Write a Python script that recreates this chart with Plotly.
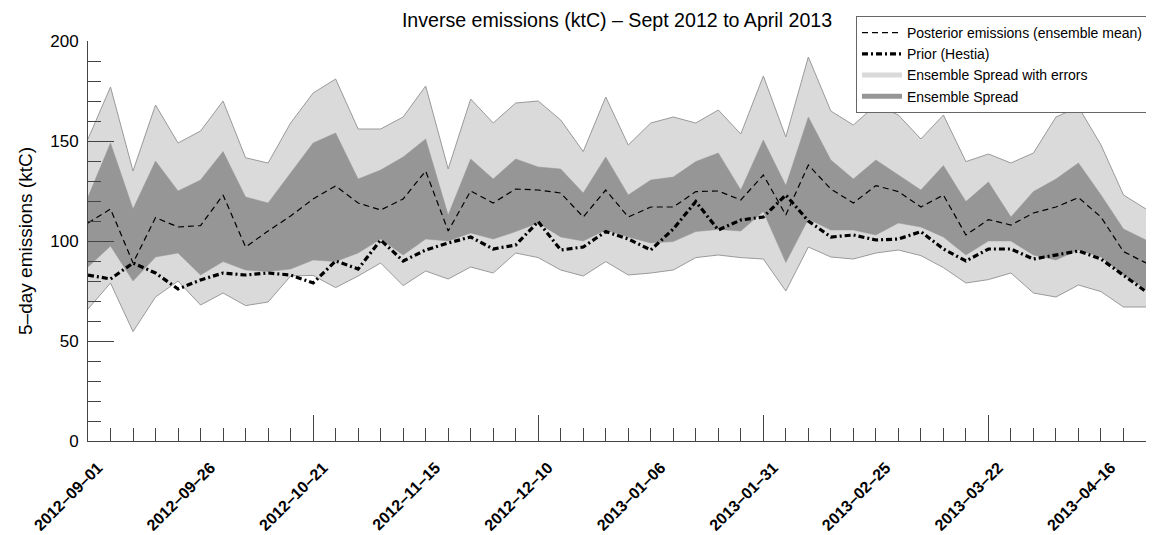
import plotly.graph_objects as go

# ---- data (5-day periods, 2012-09-01 .. 2013-04-26) ----
period_index = list(range(48))
tick_positions = [0, 5, 10, 15, 20, 25, 30, 35, 40, 45]
tick_labels = ["2012–09–01", "2012–09–26", "2012–10–21", "2012–11–15", "2012–12–10",
               "2013–01–06", "2013–01–31", "2013–02–25", "2013–03–22", "2013–04–16"]
major_tick_positions = [0, 10, 20, 30, 40]

spread_err_upper = [151, 177, 135, 168, 149, 155, 170, 141.6, 139, 159,
                    174, 181, 156, 156, 162, 177.5, 136, 171, 159, 169,
                    170, 160.5, 144.7, 172, 148, 159, 162, 159, 165.5, 153.5,
                    182.5, 152, 192, 165, 158, 168, 163, 151, 163, 139.7,
                    143.5, 139, 144, 162, 167, 148, 123, 116]
spread_upper = [122, 149, 116, 140, 125, 130.5, 144.7, 122, 119, 134,
                149, 154, 131, 135.5, 142, 151, 113, 141, 131, 141,
                137, 136, 124, 142, 123, 130.5, 132, 139.7, 144, 125.5,
                150.5, 127.7, 162, 140.5, 131, 140.5, 133, 125.5, 137.7, 119.7,
                129.5, 112, 124.7, 131, 139, 123, 106, 100.5]
posterior_mean = [109, 116, 89, 111.7, 107, 107.7, 123, 97, 105, 112.5,
                  121, 127.5, 119, 115.5, 121, 135, 105, 125, 119, 126,
                  125.5, 124, 112, 125.5, 112, 117, 117, 124.7, 125, 120.5,
                  133, 113, 138, 126, 119, 127.7, 124.7, 117, 123, 103,
                  110.7, 108, 114, 117, 121.7, 112, 94.7, 89]
prior_hestia = [83, 81, 89, 84, 76, 80.5, 84, 83, 84, 83,
                79, 90, 86, 100.5, 90, 95.5, 99, 102, 96, 98,
                109.7, 95.5, 97, 104.7, 101, 95.5, 106, 119.7, 105.5, 110.5,
                112, 123, 110, 102, 103, 100.5, 101, 104.7, 96, 90,
                96, 96, 91, 93, 95, 91, 83, 74.7]
spread_lower = [87, 97.5, 80, 92, 94, 83, 89.7, 85.5, 84.7, 86,
                90.5, 89.7, 94, 101, 93, 101, 100, 104, 101, 104.7,
                109, 102, 100, 105.5, 102, 99, 99.7, 104.7, 105.8, 105,
                114.7, 89.3, 111, 105.5, 105.5, 103, 109, 107, 102, 93,
                100, 100, 93, 90.5, 95.5, 92, 83, 76]
spread_err_lower = [66, 79, 54.7, 72, 80, 68, 74, 67.7, 69.5, 82.5,
                    82.8, 76.7, 82.5, 89, 77.7, 85, 81, 87, 84, 94,
                    91.7, 85.5, 82.5, 89.7, 83, 84, 85.5, 91.7, 93, 91.7,
                    91, 75, 97, 92, 91, 94, 95.5, 92.7, 86.7, 79,
                    80.7, 84, 74, 72, 78, 74.7, 67, 67]

LIGHT = "#dadada"
LIGHT_EDGE = "#9a9a9a"
DARK = "#969696"
AXIS = "#444444"
FONT = "Liberation Sans, Arial, Helvetica, sans-serif"

fig = go.Figure()

# light band (ensemble spread with errors)
fig.add_trace(go.Scatter(x=period_index, y=spread_err_upper, mode="lines",
                         line=dict(color=LIGHT_EDGE, width=1), showlegend=False,
                         hoverinfo="skip"))
fig.add_trace(go.Scatter(x=period_index, y=spread_err_lower, mode="lines",
                         line=dict(color=LIGHT_EDGE, width=1), fill="tonexty",
                         fillcolor=LIGHT, showlegend=False, hoverinfo="skip"))
# dark band (ensemble spread)
fig.add_trace(go.Scatter(x=period_index, y=spread_upper, mode="lines",
                         line=dict(color=DARK, width=0.5), showlegend=False,
                         hoverinfo="skip"))
fig.add_trace(go.Scatter(x=period_index, y=spread_lower, mode="lines",
                         line=dict(color=DARK, width=0.5), fill="tonexty",
                         fillcolor=DARK, showlegend=False, hoverinfo="skip"))

# lines
fig.add_trace(go.Scatter(x=period_index, y=posterior_mean, mode="lines",
                         name="Posterior emissions (ensemble mean)",
                         line=dict(color="black", width=1.2, dash="6px,4px")))
fig.add_trace(go.Scatter(x=period_index, y=prior_hestia, mode="lines",
                         name="Prior (Hestia)",
                         line=dict(color="black", width=3.2, dash="6px,3px,2px,3px")))

# legend-only entries for the bands
fig.add_trace(go.Scatter(x=[None], y=[None], mode="lines",
                         name="Ensemble Spread with errors",
                         line=dict(color=LIGHT, width=5)))
fig.add_trace(go.Scatter(x=[None], y=[None], mode="lines",
                         name="Ensemble Spread",
                         line=dict(color=DARK, width=5)))

# dummy trace to carry the long-tick overlay axis
fig.add_trace(go.Scatter(x=[None], y=[None], xaxis="x2", showlegend=False,
                         hoverinfo="skip"))

# the page body has an 8px margin; size the figure to the visible area
W, H = 1138, 527
PLOT_W = W - 80
fig.update_layout(
    width=W, height=H,
    margin=dict(l=80, r=0, t=33, b=94, autoexpand=False),
    paper_bgcolor="white", plot_bgcolor="white",
    font=dict(family=FONT, color="black", size=16),
    title=dict(text="Inverse emissions (ktC) – Sept 2012 to April 2013",
               x=0.5, xref="paper", xanchor="center",
               y=1 - 12 / H, yref="container", yanchor="middle",
               font=dict(size=19.6, family=FONT, color="black")),
    xaxis=dict(range=[0, 47], tickmode="array", tickvals=period_index,
               ticktext=[tick_labels[tick_positions.index(i)] if i in tick_positions else ""
                         for i in period_index],
               ticks="inside", ticklen=13, tickwidth=1, tickcolor=AXIS,
               tickangle=-45, tickfont=dict(size=16, weight="bold", family=FONT),
               ticklabelshift=10, ticklabelstandoff=10,
               showline=True, linecolor=AXIS, linewidth=1,
               showgrid=False, zeroline=False, automargin=False),
    xaxis2=dict(range=[0, 47], overlaying="x", anchor="y", side="bottom",
                tickmode="array", tickvals=major_tick_positions,
                ticks="inside", ticklen=26, tickwidth=1, tickcolor=AXIS,
                showticklabels=False, showline=False, showgrid=False, zeroline=False,
                automargin=False),
    yaxis=dict(range=[0, 200], tickmode="array", tickvals=[0, 50, 100, 150, 200],
               ticks="inside", ticklen=26, tickwidth=1, tickcolor=AXIS,
               minor=dict(dtick=10, ticklen=13, ticks="inside", tickcolor=AXIS, tickwidth=1),
               tickfont=dict(size=17, family=FONT), ticklabelstandoff=5,
               showline=True, linecolor=AXIS, linewidth=1,
               showgrid=False, zeroline=False, automargin=False,
               title=dict(text="5–day emissions (ktC)", font=dict(size=19, family=FONT),
                          standoff=12)),
    legend=dict(x=(856 - 88) / PLOT_W, y=(441 - 16) / 400, xanchor="left", yanchor="top",
                bgcolor="white", bordercolor="#666666", borderwidth=1,
                font=dict(size=14, family=FONT), itemwidth=40, tracegroupgap=0,
                traceorder="normal"),
    showlegend=True,
)

fig.write_html("out.html")
